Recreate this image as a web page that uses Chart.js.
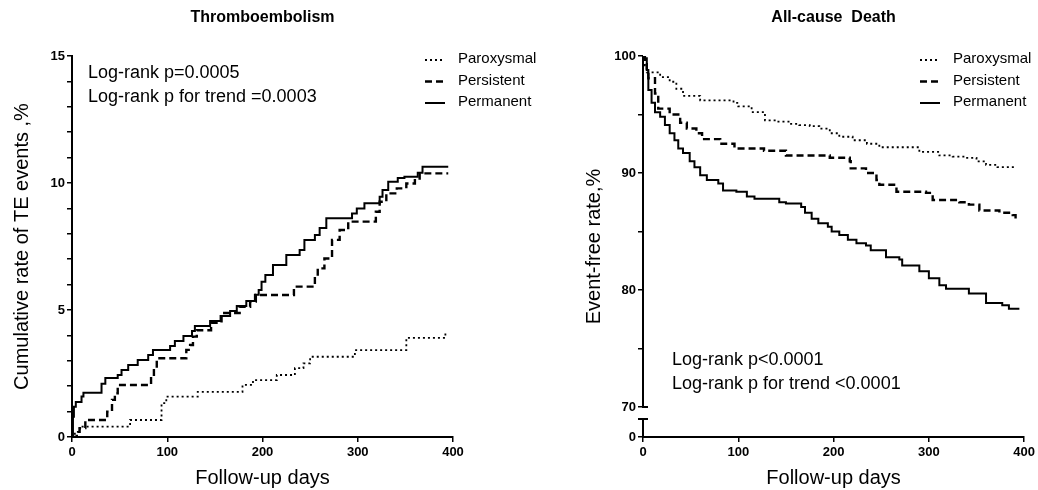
<!DOCTYPE html>
<html>
<head>
<meta charset="utf-8">
<script src="https://cdn.jsdelivr.net/npm/chart.js@4/dist/chart.umd.min.js"></script>
<style>
  html, body { margin: 0; padding: 0; background: #fff; }
  .wrap { position: relative; width: 1038px; height: 490px; overflow: hidden; }
  canvas { display: block; position: absolute; top: 0; }
  #teChart { left: 0; }
  #deathChart { left: 519px; }
</style>
</head>
<body>
<div class="wrap">
  <canvas id="teChart" width="600" height="490"></canvas>
  <canvas id="deathChart" width="519" height="490"></canvas>
</div>
<script>
const FONT = '"Liberation Sans", Arial, sans-serif';

const seriesNames = ['Paroxysmal', 'Persistent', 'Permanent'];
const xTickValues = [0, 100, 200, 300, 400];

// Thromboembolism - cumulative rate of TE events, %
const teParoxDays = [0, 3, 8, 61, 94, 99, 132, 179, 190, 215, 234, 243, 250, 297, 351, 392];
const teParoxRate = [0, 0.2, 0.41, 0.67, 1.33, 1.59, 1.78, 2.05, 2.24, 2.44, 2.71, 2.9, 3.16, 3.42, 3.9, 4.1];

const tePersDays = [0, 5, 8, 14, 37, 42, 45, 48, 83, 86, 89, 120, 124, 127, 131, 146, 157, 176, 187, 193, 233, 255, 258, 265, 273, 281, 290, 319, 323, 330, 341, 351, 360, 365, 395];
const tePersRate = [0, 0.2, 0.35, 0.67, 1.0, 1.46, 1.72, 2.05, 2.37, 2.7, 3.1, 3.43, 3.62, 3.95, 4.2, 4.5, 4.88, 5.13, 5.33, 5.59, 5.92, 6.31, 6.64, 7.03, 7.76, 8.15, 8.48, 8.87, 9.26, 9.59, 9.79, 9.98, 10.18, 10.38, 10.38];

const tePermDays = [0, 1, 2, 4, 10, 12, 31, 35, 48, 52, 59, 69, 80, 85, 103, 108, 117, 126, 129, 145, 156, 166, 173, 183, 192, 196, 199, 203, 211, 225, 239, 244, 255, 260, 267, 294, 299, 307, 323, 326, 332, 342, 349, 363, 368, 395];
const tePermRate = [0, 0.8, 1.19, 1.38, 1.59, 1.74, 2.1, 2.32, 2.44, 2.64, 2.83, 3.03, 3.23, 3.43, 3.58, 3.78, 3.98, 4.17, 4.37, 4.57, 4.76, 4.96, 5.16, 5.35, 5.6, 5.79, 6.11, 6.38, 6.77, 7.17, 7.36, 7.76, 7.95, 8.23, 8.61, 8.8, 9.0, 9.2, 9.46, 9.72, 10.05, 10.2, 10.25, 10.4, 10.64, 10.64];

// All-cause death - event-free rate, %
const deathParoxDays = [0, 2, 4, 18, 28, 35, 42, 60, 95, 100, 114, 128, 140, 154, 164, 175, 185, 196, 206, 220, 235, 248, 290, 311, 325, 339, 350, 360, 372, 392];
const deathParoxRate = [100, 99.2, 98.6, 98.2, 97.8, 97.2, 96.6, 96.2, 96.0, 95.7, 95.2, 94.5, 94.4, 94.2, 94.1, 94.0, 93.8, 93.4, 93.1, 92.8, 92.5, 92.2, 91.8, 91.5, 91.4, 91.3, 91.0, 90.7, 90.5, 90.5];

const deathPersDays = [0, 2, 4, 5.6, 12.6, 16, 28, 39, 46, 56, 62, 81, 96, 127, 150, 196, 217, 218, 234, 245, 248, 266, 297, 304, 332, 342, 353, 374, 388, 391];
const deathPersRate = [100, 99.3, 98.6, 98.1, 96.8, 95.5, 95.0, 94.3, 93.8, 93.4, 92.9, 92.5, 92.1, 91.9, 91.5, 91.3, 91.0, 90.4, 90.0, 89.4, 89.0, 88.4, 88.3, 87.7, 87.5, 87.3, 86.8, 86.6, 86.4, 86.0];

const deathPermDays = [0, 2, 4, 5.6, 9, 12.6, 18, 23, 28, 33, 37, 42, 49, 54, 60, 67, 79, 84, 98, 109, 117, 143, 150, 166, 170, 177, 184, 194, 198, 206, 215, 224, 234, 239, 255, 269, 272, 290, 300, 311, 318, 342, 360, 377, 384, 395];
const deathPermRate = [100, 99.8, 98.8, 97.1, 96.0, 95.2, 94.8, 94.1, 93.4, 92.8, 92.1, 91.7, 91.0, 90.5, 89.8, 89.4, 89.1, 88.5, 88.4, 88.0, 87.8, 87.5, 87.4, 87.1, 86.6, 86.1, 85.7, 85.4, 85.0, 84.7, 84.3, 84.0, 83.8, 83.4, 82.8, 82.6, 82.1, 81.6, 81.0, 80.4, 80.1, 79.7, 78.9, 78.7, 78.4, 78.4];

// y axis of the death plot is broken: 70..100 with a "0" below the break
const deathTickValues = [70, 75, 80, 85, 90, 95, 100];
const deathAxisZero = 67.44; // value where the "0" tick sits under the break

const lineStyles = [
    { dash: [2, 3], width: 1.8 },   // Paroxysmal - dotted
    { dash: [7, 4], width: 2.4 },   // Persistent - dashed
    { dash: [], width: 2 }          // Permanent - solid
];

function toPoints(days, vals) {
    return days.map((d, i) => ({ x: d, y: vals[i] }));
}

function makeDatasets(list) {
    return list.map((s, i) => ({
        label: seriesNames[i],
        data: toPoints(s[0], s[1]),
        stepped: true,
        borderColor: '#000',
        borderWidth: lineStyles[i].width,
        borderDash: lineStyles[i].dash,
        pointRadius: 0,
        fill: false
    }));
}

// title, p-value notes, legend and the axis break
const decorPlugin = {
    id: 'decor',
    afterDraw(chart, args, opts) {
        const ctx = chart.ctx, area = chart.chartArea;
        ctx.save();
        ctx.fillStyle = '#000';
        ctx.strokeStyle = '#000';
        ctx.textBaseline = 'middle';

        ctx.font = 'bold 16px ' + FONT;
        ctx.textAlign = 'center';
        ctx.fillText(opts.title, (area.left + area.right) / 2, 18);

        ctx.font = '18px ' + FONT;
        ctx.textAlign = 'left';
        opts.notes.forEach((t, i) => ctx.fillText(t, opts.noteX, opts.noteY + i * 24));

        ctx.font = '15px ' + FONT;
        seriesNames.forEach((name, i) => {
            const y = opts.legendY + i * 21.5;
            ctx.beginPath();
            ctx.lineWidth = lineStyles[i].width;
            ctx.setLineDash(lineStyles[i].dash);
            ctx.moveTo(opts.legendX, y + 1);
            ctx.lineTo(opts.legendX + 20, y + 1);
            ctx.stroke();
            ctx.fillText(name, opts.legendX + 33, y);
        });
        ctx.setLineDash([]);

        if (opts.axisBreak) {
            const yScale = chart.scales.y;
            const x0 = area.left;
            const y70 = yScale.getPixelForValue(70);
            const yLow = y70 + 12;
            ctx.lineWidth = 2;
            ctx.beginPath();
            ctx.moveTo(x0, area.top);
            ctx.lineTo(x0, y70);
            ctx.moveTo(x0 - 1, y70);
            ctx.lineTo(x0 + 5, y70);
            ctx.moveTo(x0, yLow);
            ctx.lineTo(x0, area.bottom);
            ctx.moveTo(x0 - 5, yLow);
            ctx.lineTo(x0 + 5, yLow);
            ctx.stroke();
        }
        ctx.restore();
    }
};

function xAxis() {
    return {
        type: 'linear',
        min: 0,
        max: 400,
        afterBuildTicks: scale => { scale.ticks = xTickValues.map(v => ({ value: v })); },
        afterFit: scale => { scale.height = 53; },
        grid: { drawOnChartArea: false, tickLength: 5, color: '#000', lineWidth: 1.5 },
        border: { color: '#000', width: 2 },
        ticks: { color: '#000', font: { size: 13, weight: 'bold' }, padding: 3 },
        title: { display: true, text: 'Follow-up days', color: '#000', font: { size: 20 }, padding: 0 }
    };
}

Chart.defaults.font.family = FONT;
Chart.defaults.color = '#000';

new Chart(document.getElementById('teChart').getContext('2d'), {
    type: 'line',
    data: {
        datasets: makeDatasets([
            [teParoxDays, teParoxRate],
            [tePersDays, tePersRate],
            [tePermDays, tePermRate]
        ])
    },
    options: {
        responsive: false,
        animation: false,
        layout: { padding: { top: 56, right: 147, bottom: 0, left: 0 } },
        plugins: {
            legend: { display: false },
            tooltip: { enabled: false },
            decor: {
                title: 'Thromboembolism',
                notes: ['Log-rank p=0.0005', 'Log-rank p for trend =0.0003'],
                noteX: 88, noteY: 73,
                legendX: 425, legendY: 59
            }
        },
        scales: {
            x: xAxis(),
            y: {
                type: 'linear',
                min: 0,
                max: 15,
                afterFit: scale => { scale.width = 72; },
                grid: { drawOnChartArea: false, tickLength: 5, color: '#000', lineWidth: 1.5 },
                border: { color: '#000', width: 2 },
                ticks: {
                    stepSize: 1,
                    autoSkip: false,
                    padding: 2,
                    color: '#000',
                    font: { size: 13, weight: 'bold' },
                    callback: v => (v % 5 === 0 ? v : '')
                },
                title: { display: true, text: 'Cumulative rate of TE events ,%', color: '#000', font: { size: 20 }, padding: { top: 10 } }
            }
        }
    },
    plugins: [decorPlugin]
});

new Chart(document.getElementById('deathChart').getContext('2d'), {
    type: 'line',
    data: {
        datasets: makeDatasets([
            [deathParoxDays, deathParoxRate],
            [deathPersDays, deathPersRate],
            [deathPermDays, deathPermRate]
        ])
    },
    options: {
        responsive: false,
        animation: false,
        layout: { padding: { top: 56, right: 13, bottom: 0, left: 0 } },
        plugins: {
            legend: { display: false },
            tooltip: { enabled: false },
            decor: {
                title: 'All-cause  Death',
                notes: ['Log-rank p<0.0001', 'Log-rank p for trend <0.0001'],
                noteX: 153, noteY: 360,
                legendX: 401, legendY: 59,
                axisBreak: true
            }
        },
        scales: {
            x: xAxis(),
            y: {
                type: 'linear',
                min: deathAxisZero,
                max: 100,
                afterFit: scale => { scale.width = 124; },
                afterBuildTicks: scale => {
                    scale.ticks = [deathAxisZero].concat(deathTickValues).map(v => ({ value: v }));
                },
                grid: { drawOnChartArea: false, tickLength: 5, color: '#000', lineWidth: 1.5 },
                border: { display: false },
                ticks: {
                    autoSkip: false,
                    padding: 2,
                    color: '#000',
                    font: { size: 13, weight: 'bold' },
                    callback: v => (v === deathAxisZero ? '0' : (v % 10 === 0 ? v : ''))
                },
                title: { display: true, text: 'Event-free rate,%', color: '#000', font: { size: 20 }, padding: { top: 63 } }
            }
        }
    },
    plugins: [decorPlugin]
});
</script>
</body>
</html>
